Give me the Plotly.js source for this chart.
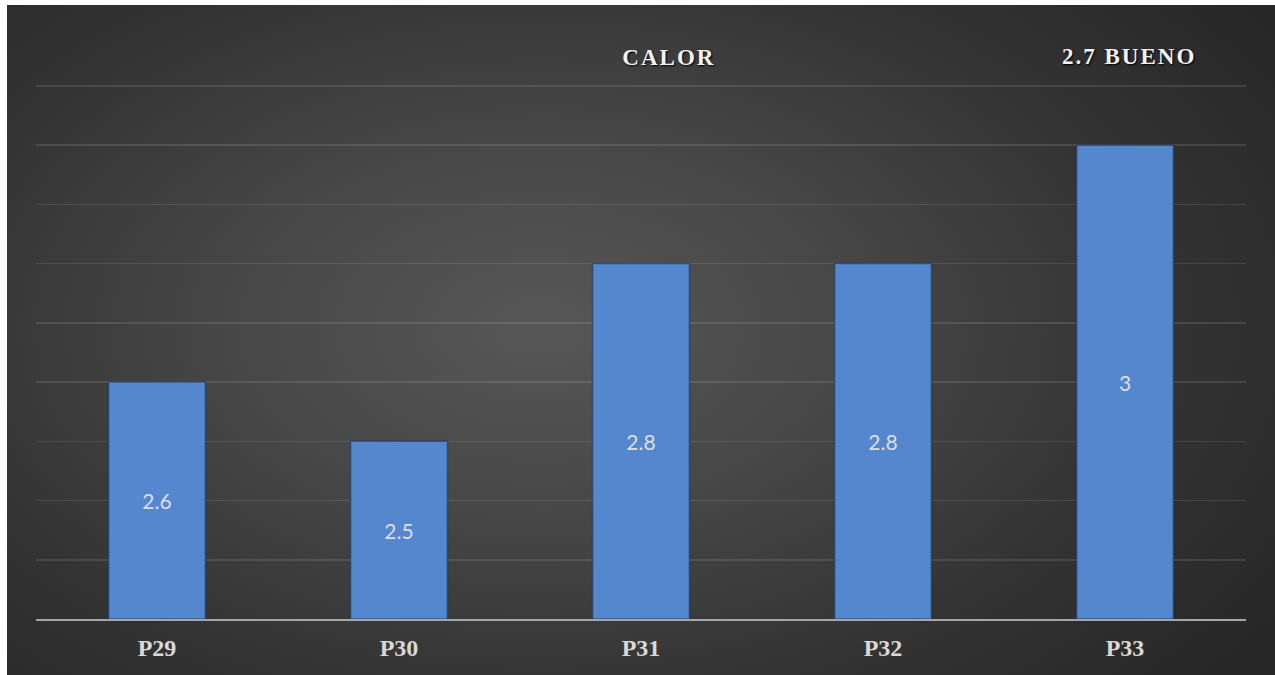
<!DOCTYPE html>
<html>
<head>
<meta charset="utf-8">
<script src="https://cdn.plot.ly/plotly-3.0.1.min.js"></script>
<style>
  html, body { margin: 0; padding: 0; background: #ffffff; width: 1275px; height: 675px; overflow: hidden; }
  #chart {
    position: absolute; left: 7px; top: 5px; width: 1268px; height: 670px;
    background: radial-gradient(ellipse 70% 80% at 42% 48%, #575757 0%, #474747 35%, #333333 70%, #272727 100%);
  }
  #chart .gtitle, #chart .annotation-text { letter-spacing: 2px; }
</style>
</head>
<body>
<div id="chart"></div>
<script>
const categories = ["P29", "P30", "P31", "P32", "P33"];
const values = [2.6, 2.5, 2.8, 2.8, 3];
const valueLabels = ["2.6", "2.5", "2.8", "2.8", "3"];
const axisMin = 2.2;
const axisMax = 3.11;
const titleText = "CALOR";
const noteText = "2.7 BUENO";

const trace = {
  type: "bar",
  x: categories,
  // bars start at the axis minimum so the labels sit in the middle of the visible bar
  base: axisMin,
  y: values.map(v => +(v - axisMin).toFixed(4)),
  text: valueLabels,
  textposition: "inside",
  insidetextanchor: "middle",
  textangle: 0,
  constraintext: "none",
  textfont: { family: "Lato, 'Open Sans', sans-serif", size: 21, color: "#dedede" },
  marker: {
    color: "#5587cf",
    line: { color: "rgba(25,50,90,0.55)", width: 1.5 }
  },
  hoverinfo: "none"
};

const layout = {
  width: 1268,
  height: 670,
  paper_bgcolor: "rgba(0,0,0,0)",
  plot_bgcolor: "rgba(0,0,0,0)",
  margin: { l: 29, r: 29, t: 75, b: 56 },
  bargap: 0.6,
  showlegend: false,
  title: {
    text: titleText,
    x: 0.522, xref: "container", xanchor: "center",
    y: 0.922, yref: "container", yanchor: "middle",
    font: { family: "'Liberation Serif', 'Times New Roman', serif", size: 23, weight: 700, color: "#f2f2f2", shadow: "1px 1px 2px #000" }
  },
  annotations: [{
    text: noteText,
    xref: "paper", yref: "paper",
    x: 0.903, y: 1.0427,
    xanchor: "center", yanchor: "middle",
    showarrow: false,
    font: { family: "'Liberation Serif', 'Times New Roman', serif", size: 23, weight: 700, color: "#f2f2f2", shadow: "1px 1px 2px #000" }
  }],
  xaxis: {
    type: "category",
    showline: true,
    linecolor: "#a6a6a6",
    linewidth: 2,
    showgrid: false,
    ticks: "",
    tickfont: { family: "'Liberation Serif', 'Times New Roman', serif", size: 24, weight: 700, color: "#d9d9d9" },
    ticklabelstandoff: 6,
    fixedrange: true
  },
  yaxis: {
    range: [axisMin, axisMax],
    tick0: axisMin,
    dtick: 0.1,
    showticklabels: false,
    showgrid: true,
    gridcolor: "rgba(255,255,255,0.11)",
    gridwidth: 1.5,
    zeroline: false,
    showline: false,
    ticks: "",
    fixedrange: true
  }
};

Plotly.newPlot("chart", [trace], layout, { displayModeBar: false, staticPlot: true });
</script>
</body>
</html>
